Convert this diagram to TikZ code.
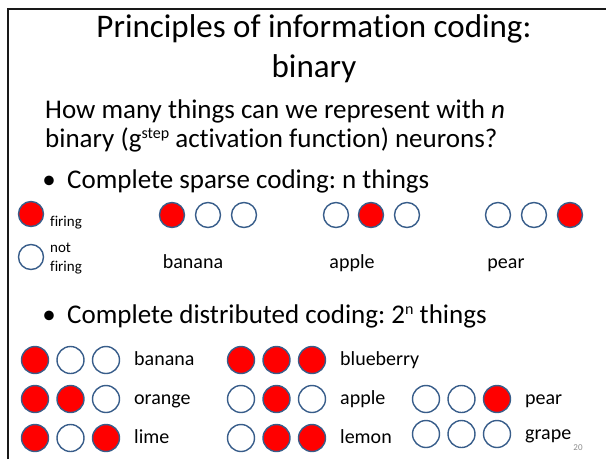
\documentclass[tikz,border=0pt]{standalone}
\usepackage{fontspec}
\setmainfont{Carlito}[Ligatures=NoCommon]
\usetikzlibrary{positioning}
\definecolor{FireRed}{rgb}{1, 0, 0}
\definecolor{RimBlue}{RGB}{56, 93, 138}
\frenchspacing

\begin{document}
\begin{tikzpicture}[x=1pt, y=-1pt,
  fnd/.style = {circle, draw=RimBlue, fill=FireRed,
                minimum size=25pt, inner sep=0pt, line width=1.4pt},
  qnd/.style = {circle, draw=RimBlue, fill=white,
                minimum size=25pt, inner sep=0pt, line width=1.4pt},
  big/.style = {minimum size=27pt},
  ttl/.style = {font=\fontsize{33}{40}\selectfont, anchor=base, inner sep=0pt},
  bdy/.style = {font=\fontsize{27}{31}\selectfont, anchor=base west, inner sep=0pt},
  lbl/.style = {font=\fontsize{20}{24}\selectfont, anchor=base west, inner sep=0pt},
  sml/.style = {font=\fontsize{15}{19}\selectfont, inner sep=0pt},
]
\useasboundingbox (0,0) rectangle (606,459);

% slide frame
\draw[line width=2.4pt, black!90] (8,459) -- (8,9) -- (606,9);

% title and question
\node[ttl] (t1) at (314,37) {Principles of information coding:};
\node[ttl] (t2) at (314,77) {binary};
\node[bdy] (q1) at (45,118) {How many things can we represent with \textit{n}};
\node[bdy] (q2) at (45,147)
  {binary (g\raisebox{0.32em}{\fontsize{16}{16}\selectfont step} activation function) neurons?};

% sparse coding
\node[bdy, anchor=base] (b1) at (49,188) {\textbullet};
\node[bdy] (s1) at (67,188) {Complete sparse coding: n things};

\node[fnd] (Lf) at (31,214) {};
\node[sml, anchor=base west] (Lft) at (50,226) {firing};
\node[qnd] (Lq) at (31,257) {};
\node[sml, anchor=west, align=left] (Lqt) at (50,259) {not\\firing};

\node[fnd] (S11) at (172,215) {};
\node[qnd] (S12) at (208,215) {};
\node[qnd] (S13) at (244,215) {};
\node[qnd] (S21) at (336,215) {};
\node[fnd] (S22) at (371,215) {};
\node[qnd] (S23) at (407,215) {};
\node[qnd] (S31) at (498,215) {};
\node[qnd] (S32) at (534,215) {};
\node[fnd] (S33) at (570,215) {};

\node[lbl, anchor=base] (Sban) at (193,268) {banana};
\node[lbl, anchor=base] (Sapp) at (352,268) {apple};
\node[lbl, anchor=base] (Spea) at (506,268) {pear};

% distributed coding
\node[bdy, anchor=base] (b2) at (49,323) {\textbullet};
\node[bdy] (s2) at (67,323)
  {Complete distributed coding: 2\raisebox{0.32em}{\fontsize{16}{16}\selectfont n} things};

\foreach \nm/\cx/\cy/\sa/\sb/\sc/\txt in {
    ban/35/360/fnd/qnd/qnd/banana, ora/35/399/fnd/fnd/qnd/orange,
    lim/35/438/fnd/qnd/fnd/lime,   blu/241/360/fnd/fnd/fnd/blueberry,
    app/241/399/qnd/fnd/qnd/apple, lem/241/438/qnd/fnd/fnd/lemon,
    pea/426/399/qnd/qnd/fnd/pear,  gra/426/434/qnd/qnd/qnd/grape}{
  \node[\sa, big] (\nm1) at (\cx,\cy) {};
  \node[\sb, big] (\nm2) at (\cx+35.5,\cy) {};
  \node[\sc, big] (\nm3) at (\cx+71,\cy) {};
  \node[lbl] (\nm t) at (\cx+99,\cy+5) {\txt};
}

\node[font=\fontsize{9}{11}\selectfont, text=black!45, inner sep=0pt]
  (pg) at (578,448) {20};

\end{tikzpicture}
\end{document}
